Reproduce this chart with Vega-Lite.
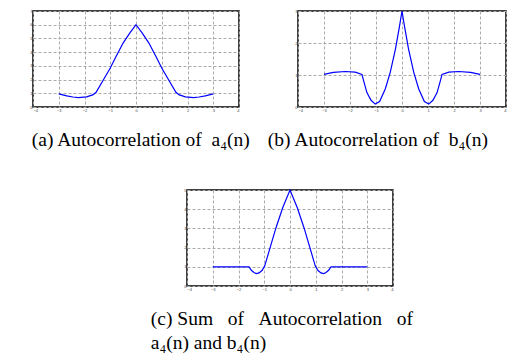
{
  "$schema": "https://vega.github.io/schema/vega-lite/v6.json",
  "padding": {"left": 29, "top": 7, "right": 0, "bottom": 0},
  "background": "white",
  "datasets": {
    "a": [
      {"n": -3.0, "r": 0.96}, {"n": -2.69, "r": 0.81}, {"n": -2.45, "r": 0.73}, {"n": -2.24, "r": 0.69},
      {"n": -1.92, "r": 0.74}, {"n": -1.68, "r": 0.88}, {"n": -1.55, "r": 1.07}, {"n": -1.27, "r": 1.97},
      {"n": -1.01, "r": 2.81}, {"n": -0.75, "r": 3.78}, {"n": -0.49, "r": 4.70}, {"n": -0.23, "r": 5.42},
      {"n": 0, "r": 6.0},
      {"n": 0.23, "r": 5.42}, {"n": 0.49, "r": 4.70}, {"n": 0.75, "r": 3.78}, {"n": 1.01, "r": 2.81},
      {"n": 1.27, "r": 1.97}, {"n": 1.55, "r": 1.07}, {"n": 1.68, "r": 0.88}, {"n": 1.92, "r": 0.74},
      {"n": 2.24, "r": 0.69}, {"n": 2.45, "r": 0.73}, {"n": 2.69, "r": 0.81}, {"n": 3.0, "r": 0.96}
    ],
    "b": [
      {"n": -3.0, "r": 1.02}, {"n": -2.64, "r": 1.08}, {"n": -2.18, "r": 1.11}, {"n": -1.8, "r": 1.09},
      {"n": -1.54, "r": 1.02}, {"n": -1.48, "r": 0.83}, {"n": -1.35, "r": 0.45}, {"n": -1.19, "r": 0.21},
      {"n": -1.03, "r": 0.09}, {"n": -0.86, "r": 0.17}, {"n": -0.64, "r": 0.57}, {"n": -0.45, "r": 1.09},
      {"n": -0.25, "r": 1.82}, {"n": -0.09, "r": 2.55}, {"n": 0, "r": 3.0},
      {"n": 0.09, "r": 2.55}, {"n": 0.25, "r": 1.82}, {"n": 0.45, "r": 1.09}, {"n": 0.64, "r": 0.57},
      {"n": 0.86, "r": 0.17}, {"n": 1.03, "r": 0.09}, {"n": 1.19, "r": 0.21}, {"n": 1.35, "r": 0.45},
      {"n": 1.48, "r": 0.83}, {"n": 1.54, "r": 1.02}, {"n": 1.8, "r": 1.09}, {"n": 2.18, "r": 1.11},
      {"n": 2.64, "r": 1.08}, {"n": 3.0, "r": 1.02}
    ],
    "c": [
      {"n": -3.0, "r": 1.0}, {"n": -1.59, "r": 1.0}, {"n": -1.5, "r": 0.82}, {"n": -1.4, "r": 0.70},
      {"n": -1.31, "r": 0.65}, {"n": -1.2, "r": 0.68}, {"n": -1.08, "r": 0.82}, {"n": -0.98, "r": 1.05},
      {"n": -0.79, "r": 1.92}, {"n": -0.54, "r": 3.05}, {"n": -0.28, "r": 4.09}, {"n": 0, "r": 5.0},
      {"n": 0.28, "r": 4.09}, {"n": 0.54, "r": 3.05}, {"n": 0.79, "r": 1.92}, {"n": 0.98, "r": 1.05},
      {"n": 1.08, "r": 0.82}, {"n": 1.2, "r": 0.68}, {"n": 1.31, "r": 0.65}, {"n": 1.4, "r": 0.70},
      {"n": 1.5, "r": 0.82}, {"n": 1.59, "r": 1.0}, {"n": 3.0, "r": 1.0}
    ]
  },
  "bounds": "flush",
  "spacing": 179,
  "vconcat": [
    {
      "bounds": "flush",
      "spacing": 59,
      "hconcat": [
        {
          "width": 206, "height": 96,
          "data": {"name": "a"},
          "title": {"text": "(a) Autocorrelation of\u00a0 a₄(n)", "orient": "bottom", "anchor": "start", "dx": 2, "offset": 19},
          "mark": {"type": "line", "color": "#0000ff", "strokeWidth": 1.2},
          "encoding": {
            "x": {"field": "n", "type": "quantitative", "scale": {"domain": [-4, 4], "nice": false}, "axis": {"values": [-4, -3, -2, -1, 0, 1, 2, 3, 4]}},
            "y": {"field": "r", "type": "quantitative", "scale": {"domain": [0, 7], "nice": false}, "axis": {"values": [0, 1, 2, 3, 4, 5, 6, 7]}}
          }
        },
        {
          "width": 208, "height": 96,
          "data": {"name": "b"},
          "title": {"text": "(b) Autocorrelation of\u00a0 b₄(n)", "orient": "bottom", "anchor": "start", "dx": -27, "offset": 19},
          "mark": {"type": "line", "color": "#0000ff", "strokeWidth": 1.2},
          "encoding": {
            "x": {"field": "n", "type": "quantitative", "scale": {"domain": [-4, 4], "nice": false}, "axis": {"values": [-4, -3, -2, -1, 0, 1, 2, 3, 4]}},
            "y": {"field": "r", "type": "quantitative", "scale": {"domain": [0, 3], "nice": false}, "axis": {"values": [0, 1, 2, 3]}}
          }
        }
      ]
    },
    {
      "bounds": "flush",
      "spacing": 20,
      "hconcat": [
        {
          "width": 134, "height": 96,
          "data": {"values": [{}]},
          "view": {"stroke": null},
          "mark": {"type": "point", "opacity": 0}
        },
        {
          "width": 206, "height": 96,
          "data": {"name": "c"},
          "title": {"text": ["(c) Sum\u00a0\u00a0\u00a0of\u00a0\u00a0\u00a0Autocorrelation\u00a0\u00a0\u00a0of", "a₄(n) and b₄(n)"], "orient": "bottom", "anchor": "start", "align": "left", "dx": -33, "offset": 19, "lineHeight": 23.5},
          "mark": {"type": "line", "color": "#0000ff", "strokeWidth": 1.2},
          "encoding": {
            "x": {"field": "n", "type": "quantitative", "scale": {"domain": [-4, 4], "nice": false}, "axis": {"values": [-4, -3, -2, -1, 0, 1, 2, 3, 4]}},
            "y": {"field": "r", "type": "quantitative", "scale": {"domain": [0, 5], "nice": false}, "axis": {"values": [0, 1, 2, 3, 4, 5]}}
          }
        }
      ]
    }
  ],
  "config": {
    "view": {"stroke": "#000000", "strokeWidth": 1.5},
    "axis": {
      "title": null,
      "domain": false,
      "ticks": false,
      "grid": true,
      "gridColor": "#aaaaaa",
      "gridDash": [3, 2],
      "gridWidth": 1,
      "labelFontSize": 4,
      "labelColor": "#444444",
      "labelPadding": 1,
      "labelFont": "Liberation Sans"
    },
    "title": {
      "font": "Liberation Serif",
      "fontSize": 19.5,
      "fontWeight": "normal",
      "color": "#000000"
    }
  }
}
